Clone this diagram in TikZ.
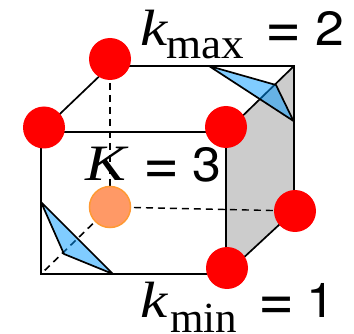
\documentclass[tikz,border=0pt]{standalone}
\usepackage{graphicx}
\usepackage{fontspec}
\setmainfont{Liberation Serif}
\newfontfamily\eqfont{TeX Gyre Heros}
\newcommand{\ksym}[1]{\scalebox{1.2}[1]{\fontsize{51pt}{51pt}\selectfont\itshape #1}}
\newcommand{\keq}{\scalebox{1.29}[1.3]{\fontsize{48pt}{48pt}\selectfont\eqfont =}}
\newcommand{\kdig}[1]{\scalebox{1.08}[1]{\fontsize{48pt}{48pt}\selectfont\eqfont #1}}
\begin{document}
\begin{tikzpicture}[x=1pt,y=-1pt,
  edge/.style={line width=1.7pt,black},
  hidden/.style={line width=1.6pt,black,dash pattern=on 7pt off 5pt},
  hiddenthin/.style={line width=1.4pt,black,dash pattern=on 7pt off 5pt},
  corner/.style={circle,fill=red,draw=none,minimum size=42pt,inner sep=0pt},
  inner/.style={circle,fill=orangefill,draw=orangeline,line width=1.5pt,minimum size=41pt,inner sep=0pt},
  wedge/.style={fill=wedgeblue,fill opacity=0.5,draw=black,line width=1.7pt,line join=round},
  lbl/.style={anchor=base west,inner sep=0pt,outer sep=0pt,text=black}]
\definecolor{orangefill}{HTML}{FF9966}
\definecolor{orangeline}{HTML}{FF9933}
\definecolor{wedgeblue}{HTML}{0199FF}
\definecolor{facegray}{HTML}{CCCCCC}
\useasboundingbox (0,0) rectangle (354,334);
% cube corners
\coordinate (ftl) at (41,132);
\coordinate (ftr) at (226,132);
\coordinate (fbl) at (41,274);
\coordinate (fbr) at (226,274);
\coordinate (btl) at (110,66);
\coordinate (btr) at (294,66);
\coordinate (bbr) at (294,211);
% grey face
\fill[facegray] (ftr) -- (btr) -- (bbr) -- (fbr) -- cycle;
% circle positions
\coordinate (c1) at (110,59);
\coordinate (c2) at (44,127.5);
\coordinate (c3) at (226,127);
\coordinate (c4) at (295,211);
\coordinate (c5) at (227,268);
\coordinate (c6) at (110,207);
% edges
\draw[edge] (btl) -- (btr) -- (bbr) -- (fbr) -- (fbl) -- (ftl) -- (ftr) -- (fbr);
\draw[edge] (ftl) -- (btl);
\draw[edge] (ftr) -- (btr);
% hidden edges
\draw[hidden] (c1) -- (c6);
\draw[hiddenthin] (c6) -- (c4);
\draw[hidden] (c6) -- (fbl);
% wedges
\coordinate (wa1) at (209,66);
\coordinate (wa2) at (276,85);
\coordinate (wa3) at (293.5,121);
\coordinate (wb1) at (41,202);
\coordinate (wb2) at (64,254);
\coordinate (wb3) at (113,274);
\draw[wedge] (wa1) -- (wa2) -- (wa3) -- cycle;
\draw[wedge] (wb1) -- (wb2) -- (wb3) -- cycle;
% circles on top
\node[corner] (n1) at (c1) {};
\node[corner] (n2) at (c2) {};
\node[corner] (n3) at (c3) {};
\node[corner] (n4) at (c4) {};
\node[corner] (n5) at (c5) {};
\node[inner] (n6) at (c6) {};
% labels
\node[lbl] (kmaxk) at (140,45.5) {\ksym{k}};
\node[lbl] (kmaxs) at (166.5,59) {\scalebox{1.05}[1]{\fontsize{43pt}{43pt}\selectfont max}};
\node[lbl] (kmaxe) at (265.5,49) {\keq};
\node[lbl] (kmaxv) at (315,45.5) {\kdig{2}};
\node[lbl] (kk) at (85,181) {\ksym{K}};
\node[lbl] (ke) at (143.5,185) {\keq};
\node[lbl] (kv) at (192.5,181.5) {\kdig{3}};
\node[lbl] (kmink) at (140.5,317) {\ksym{k}};
\node[lbl] (kmins) at (170.5,332.5) {\fontsize{43pt}{43pt}\selectfont min};
\node[lbl] (kmine) at (258.5,320.5) {\keq};
\node[lbl] (kminv) at (306,317) {\kdig{1}};
\end{tikzpicture}
\end{document}
